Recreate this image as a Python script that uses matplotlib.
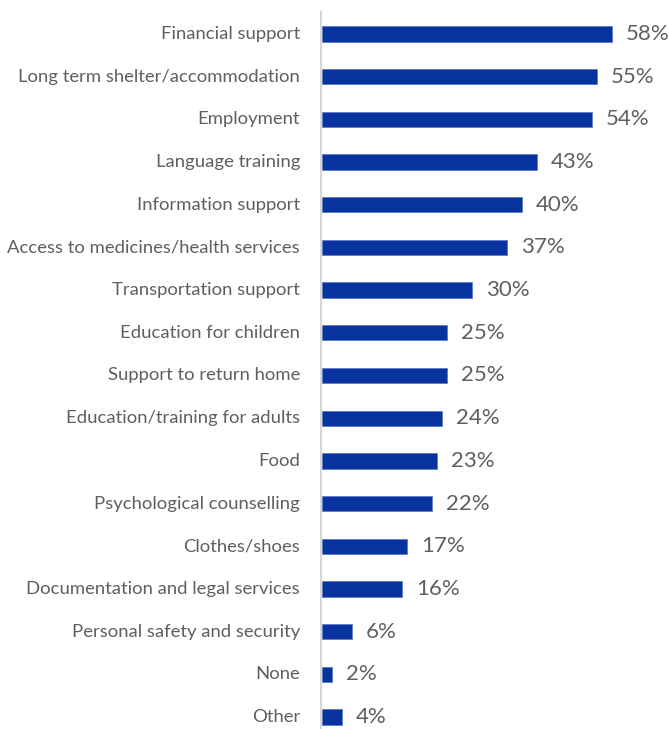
import matplotlib
matplotlib.use("Agg")
import matplotlib.pyplot as plt
from matplotlib import font_manager

categories = [
    "Financial support",
    "Long term shelter/accommodation",
    "Employment",
    "Language training",
    "Information support",
    "Access to medicines/health services",
    "Transportation support",
    "Education for children",
    "Support to return home",
    "Education/training for adults",
    "Food",
    "Psychological counselling",
    "Clothes/shoes",
    "Documentation and legal services",
    "Personal safety and security",
    "None",
    "Other",
]
values = [58, 55, 54, 43, 40, 37, 30, 25, 25, 24, 23, 22, 17, 16, 6, 2, 4]

names = {f.name for f in font_manager.fontManager.ttflist}
family = "Lato" if "Lato" in names else "DejaVu Sans"

bar_color = "#06339e"
text_color = "#5f5f5f"

W, H = 669, 729
x0 = 322
fig = plt.figure(figsize=(W / 100, H / 100), dpi=100)
ax = fig.add_axes([x0 / W, 0, 1 - x0 / W, 1])

y = list(range(len(categories)))
ax.barh(y, values, height=0.36, color=bar_color, edgecolor="#4a6cc0", linewidth=0.4)

scale = 5.0  # pixels per percentage point
ax.set_xlim(0, (W - x0) / scale)
px = 42.69
ax.set_ylim(16 + (H - 717) / px, -34 / px)

for yi, v in zip(y, values):
    ax.text(v + 14 / scale, yi, f"{v}%", va="center", ha="left",
            fontsize=16, color=text_color, family=family, fontweight="normal")

for yi, c in zip(y, categories):
    ax.text(-22 / scale, yi, c, va="center", ha="right", fontsize=13.3,
            color=text_color, family=family, fontweight="normal", clip_on=False)

ax.plot([-1 / scale, -1 / scale], [-22 / px, 16 + (H - 717) / px], color="#d6d6d6",
        linewidth=1.5, clip_on=False, zorder=0)

ax.axis("off")
fig.savefig("out.png", dpi=100)
